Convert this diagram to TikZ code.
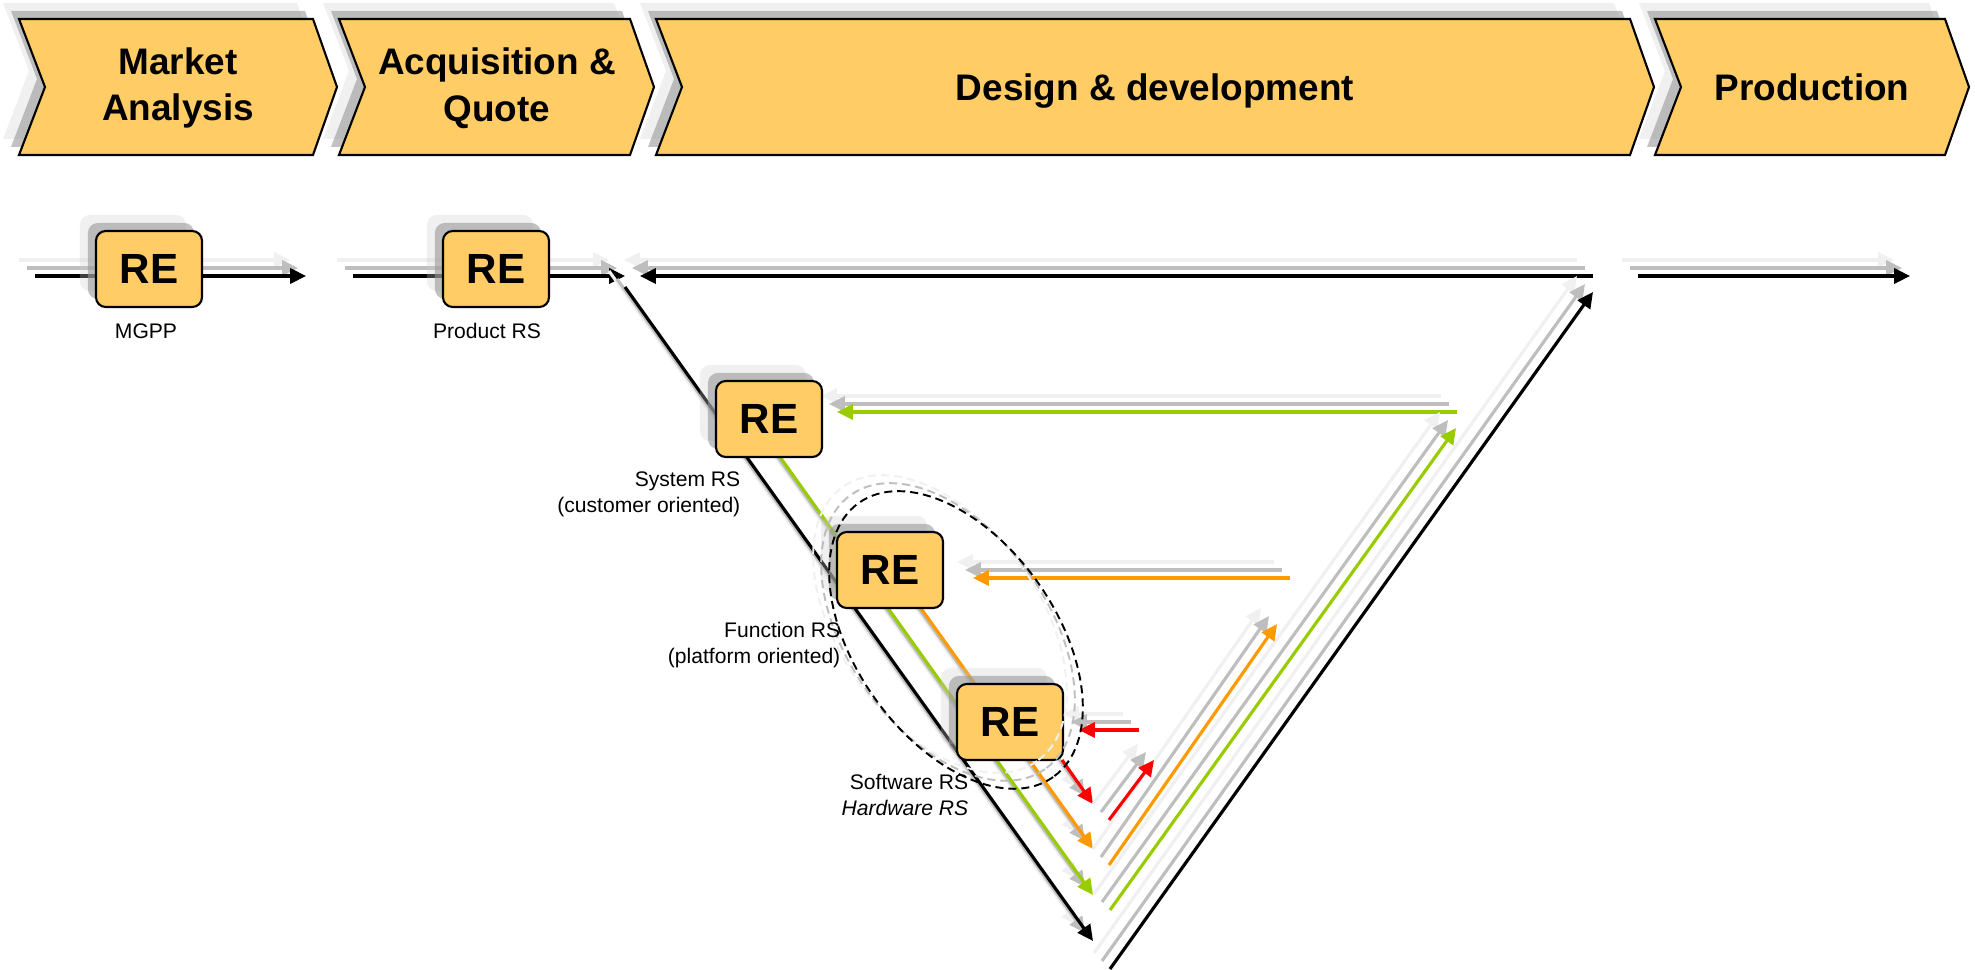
\documentclass[tikz,border=0pt]{standalone}
\usepackage{fontspec}
\setmainfont{Liberation Sans}
\usetikzlibrary{arrows.meta}

\definecolor{phasefill}{RGB}{255,204,102}
\definecolor{sysgreen}{RGB}{153,204,0}
\definecolor{funcorange}{RGB}{255,153,0}
\definecolor{swred}{RGB}{255,0,0}
\definecolor{shademid}{RGB}{190,190,190}
\definecolor{shadelight}{RGB}{240,240,240}

\tikzset{
  lshadow/.style={
    preaction={draw=shadelight, #1, transform canvas={xshift=-0.16cm, yshift=0.16cm}},
    preaction={draw=shademid, #1, transform canvas={xshift=-0.08cm, yshift=0.08cm}}},
  lshadow/.default={line width=0.9pt},
  fshadow/.style={
    preaction={draw=none, fill=black!20, fill opacity=0.3, transform canvas={xshift=-0.16cm, yshift=0.16cm}},
    preaction={draw=none, fill=black!40, fill opacity=0.6, transform canvas={xshift=-0.08cm, yshift=0.08cm}}},
  phasebox/.style={draw, fill=phasefill, line width=0.6pt, fshadow},
  phasetext/.style={font=\fontsize{10.5}{13.3}\selectfont\bfseries, align=center},
  rebox/.style={draw, fill=phasefill, rounded corners=2.8pt, line width=0.6pt,
    minimum width=1.06cm, minimum height=0.76cm, inner sep=0pt,
    font=\fontsize{12}{14}\selectfont\bfseries, fshadow},
  rslabel/.style={font=\fontsize{6}{7.4}\selectfont, align=right, inner sep=0pt},
  flowarrow/.style={line width=0.9pt, -{Triangle[length=4.5pt,width=4.3pt]},
    lshadow={line width=0.9pt}},
  focusring/.style={line width=0.55pt, dash pattern=on 2.3pt off 1.4pt,
    lshadow={line width=0.55pt, dash pattern=on 2.3pt off 1.4pt}}
}

\begin{document}
\begin{tikzpicture}[x=0.01cm, y=-0.01cm]
  \useasboundingbox (0,0) rectangle (1975,970);
  \draw[phasebox] (19,19) -- (313,19) -- (337,87) -- (313,155) -- (19,155) -- (45,87) -- cycle;
  \draw[phasebox] (339,19) -- (630,19) -- (654,87) -- (630,155) -- (339,155) -- (365,87) -- cycle;
  \draw[phasebox] (656,19) -- (1630,19) -- (1654,87) -- (1630,155) -- (656,155) -- (682,87) -- cycle;
  \draw[phasebox] (1655,19) -- (1945,19) -- (1969,87) -- (1945,155) -- (1655,155) -- (1681,87) -- cycle;
  \node[phasetext] (P1) at (178,88)  {Market\\Analysis};
  \node[phasetext] (P2) at (497,88)  {Acquisition \&\\Quote};
  \node[phasetext] (P3) at (1155,91) {Design \& development};
  \node[phasetext] (P4) at (1812,87) {Production};

  \coordinate (A1) at (35,276);   \coordinate (A2) at (306,276);
  \coordinate (B1) at (353,276);  \coordinate (B2) at (625,276);
  \coordinate (C1) at (1638,276); \coordinate (C2) at (1910,276);
  \coordinate (K1) at (1593,276); \coordinate (K2) at (640,276);
  \coordinate (K3) at (625,287);  \coordinate (K4) at (1093,941);
  \coordinate (K5) at (1110,969); \coordinate (K6) at (1593,292);
  \coordinate (G1) at (1457,412); \coordinate (G2) at (837,412);
  \coordinate (G3) at (780,457);  \coordinate (G4) at (1093,895);
  \coordinate (G5) at (1110,910); \coordinate (G6) at (1456,428);
  \coordinate (O1) at (1290,578); \coordinate (O2) at (973,578);
  \coordinate (O3) at (920,607);  \coordinate (O4) at (1093,849);
  \coordinate (O5) at (1109,865); \coordinate (O6) at (1277,624);
  \coordinate (S1) at (1139,730); \coordinate (S2) at (1079,730);
  \coordinate (S3) at (1062,760); \coordinate (S4) at (1093,804);
  \coordinate (S5) at (1109,820); \coordinate (S6) at (1154,760);

  \draw[flowarrow] (A1) -- (A2);
  \draw[flowarrow] (B1) -- (B2);
  \draw[flowarrow] (C1) -- (C2);
  \draw[flowarrow] (K1) -- (K2);
  \draw[flowarrow] (K3) -- (K4);
  \draw[flowarrow] (K5) -- (K6);
  \draw[flowarrow, draw=sysgreen] (G1) -- (G2);
  \draw[flowarrow, draw=sysgreen] (G3) -- (G4);
  \draw[flowarrow, draw=sysgreen] (G5) -- (G6);
  \draw[flowarrow, draw=funcorange] (O1) -- (O2);
  \draw[flowarrow, draw=funcorange] (O3) -- (O4);
  \draw[flowarrow, draw=funcorange] (O5) -- (O6);
  \draw[flowarrow, draw=swred] (S1) -- (S2);
  \draw[flowarrow, draw=swred] (S3) -- (S4);
  \draw[flowarrow, draw=swred] (S5) -- (S6);

  \node[rebox] (R1) at (149,269)  {RE};
  \node[rebox] (R2) at (496,269)  {RE};
  \node[rebox] (R3) at (769,419)  {RE};
  \node[rebox] (R4) at (890,570)  {RE};
  \node[rebox] (R5) at (1010,722) {RE};

  \coordinate (E) at (956,640);
  \draw[focusring, rotate around={-54.7:(E)}] (E) ellipse [x radius=168, y radius=100];

  \node[rslabel] (L1) at (146,331) {MGPP};
  \node[rslabel] (L2) at (487,331) {Product RS};
  \node[rslabel, anchor=east] (L3) at (741,494) {System RS\\(customer oriented)};
  \node[rslabel, anchor=east] (L4) at (841,645) {Function RS\\(platform oriented)};
  \node[rslabel, anchor=east] (L5) at (969,795) {Software RS\\\textit{Hardware RS}};
\end{tikzpicture}
\end{document}
